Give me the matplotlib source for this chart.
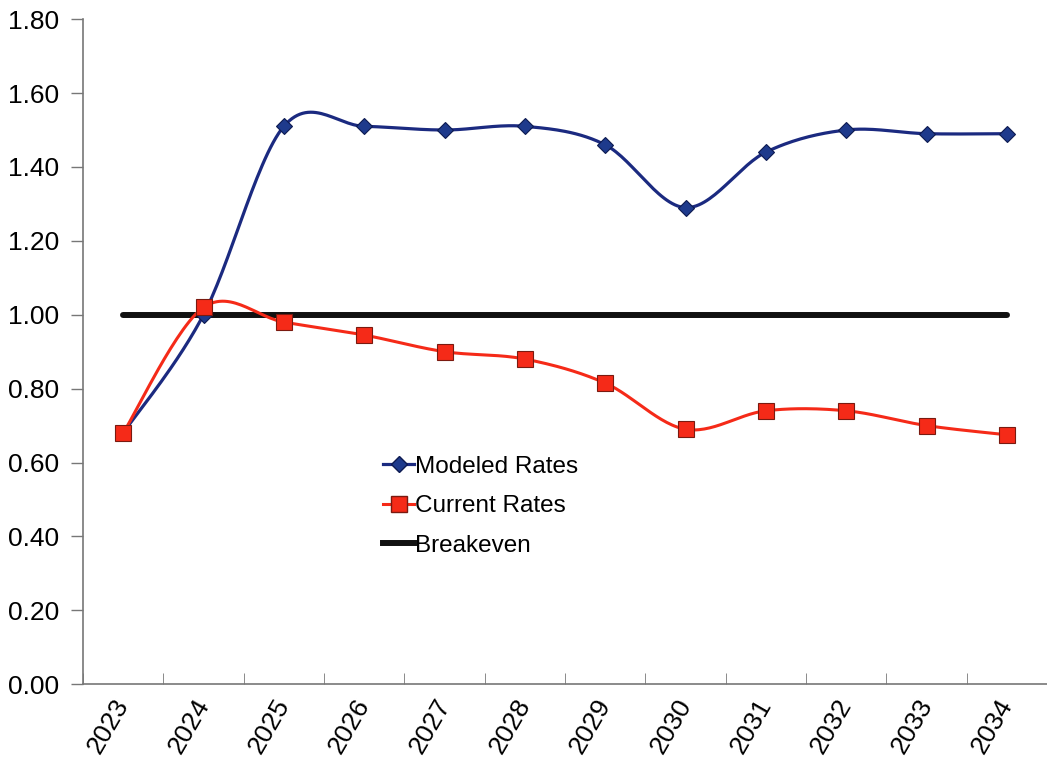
import matplotlib
matplotlib.use("Agg")
from matplotlib import pyplot as plt
import numpy as np

plt.rcParams['font.family'] = ['Liberation Sans', 'DejaVu Sans']

years = ['2023', '2024', '2025', '2026', '2027', '2028',
         '2029', '2030', '2031', '2032', '2033', '2034']
modeled_rates = [0.68, 1.00, 1.51, 1.51, 1.50, 1.51, 1.46, 1.29, 1.44, 1.50, 1.49, 1.49]
current_rates = [0.68, 1.02, 0.98, 0.945, 0.90, 0.88, 0.815, 0.69, 0.74, 0.74, 0.70, 0.675]
breakeven = [1.00] * 12


def smooth(xs, ys, steps=30):
    # Bezier smoothing through every point, like a spreadsheet "smoothed line"
    xs = np.asarray(xs, float)
    ys = np.asarray(ys, float)
    n = len(xs)
    px, py = [], []
    for i in range(n - 1):
        i0 = max(i - 1, 0)
        i3 = min(i + 2, n - 1)
        c1x = xs[i] + (xs[i + 1] - xs[i0]) / 6
        c1y = ys[i] + (ys[i + 1] - ys[i0]) / 6
        c2x = xs[i + 1] - (xs[i3] - xs[i]) / 6
        c2y = ys[i + 1] - (ys[i3] - ys[i]) / 6
        t = np.linspace(0, 1, steps, endpoint=(i == n - 2))
        a, b, c, d = (1 - t) ** 3, 3 * (1 - t) ** 2 * t, 3 * (1 - t) * t ** 2, t ** 3
        px.extend(a * xs[i] + b * c1x + c * c2x + d * xs[i + 1])
        py.extend(a * ys[i] + b * c1y + c * c2y + d * ys[i + 1])
    return px, py


x = np.arange(len(years))

fig = plt.figure(figsize=(10.47, 7.67), dpi=100)
ax = fig.add_axes([0.0793, 0.108, 0.9207, 0.867])

navy = '#1b2a80'
red = '#f52a18'

mx, my = smooth(x, modeled_rates)
ax.plot(mx, my, color=navy, lw=2.3, zorder=3)
ax.plot(x, modeled_rates, ls='none', marker='D', ms=8.5, color='#1e3a8c',
        mec='#0d1a50', mew=0.8, zorder=4)

cx, cy = smooth(x, current_rates)
ax.plot(cx, cy, color=red, lw=2.2, zorder=3)
ax.plot(x, current_rates, ls='none', marker='s', ms=11, color=red,
        mec='#7a1a10', mew=0.8, zorder=4)

ax.plot(x, breakeven, color='#111111', lw=4.3, solid_capstyle='round', zorder=2)

# legend handles: line with its marker
h1, = ax.plot([], [], color=navy, lw=2.3, marker='D', ms=8.5, mfc='#1e3a8c', mec='#0d1a50')
h2, = ax.plot([], [], color=red, lw=2.2, marker='s', ms=11, mfc=red, mec='#7a1a10')
h3, = ax.plot([], [], color='#111111', lw=4.3)
ax.legend([h1, h2, h3], ['Modeled Rates', 'Current Rates', 'Breakeven'],
          loc='upper left', bbox_to_anchor=(0.299, 0.362), frameon=False,
          fontsize=17.5, handlelength=1.25, handletextpad=0.05, labelspacing=0.72,
          borderpad=0)

ax.set_xlim(-0.5, 11.5)
ax.set_ylim(0, 1.8)
ax.set_yticks(np.arange(0, 1.81, 0.2))
ax.set_yticklabels([f'{v:.2f}' for v in np.arange(0, 1.81, 0.2)], fontsize=19)
ax.tick_params(axis='y', direction='out', length=9, width=1, color='#777777', pad=8)

ax.set_xticks(x)
ax.set_xticklabels(years, rotation=60, ha='right', va='center',
                   rotation_mode='anchor', fontsize=19)
ax.tick_params(axis='x', length=0, pad=12)
ax.set_xticks(np.arange(-0.5, 11.6, 1), minor=True)
ax.tick_params(axis='x', which='minor', direction='in', length=8, color='#777777')

for side in ['top', 'right']:
    ax.spines[side].set_visible(False)
for side in ['left', 'bottom']:
    ax.spines[side].set_color('#777777')
    ax.spines[side].set_linewidth(1.2)

fig.savefig('out.png', dpi=100)
